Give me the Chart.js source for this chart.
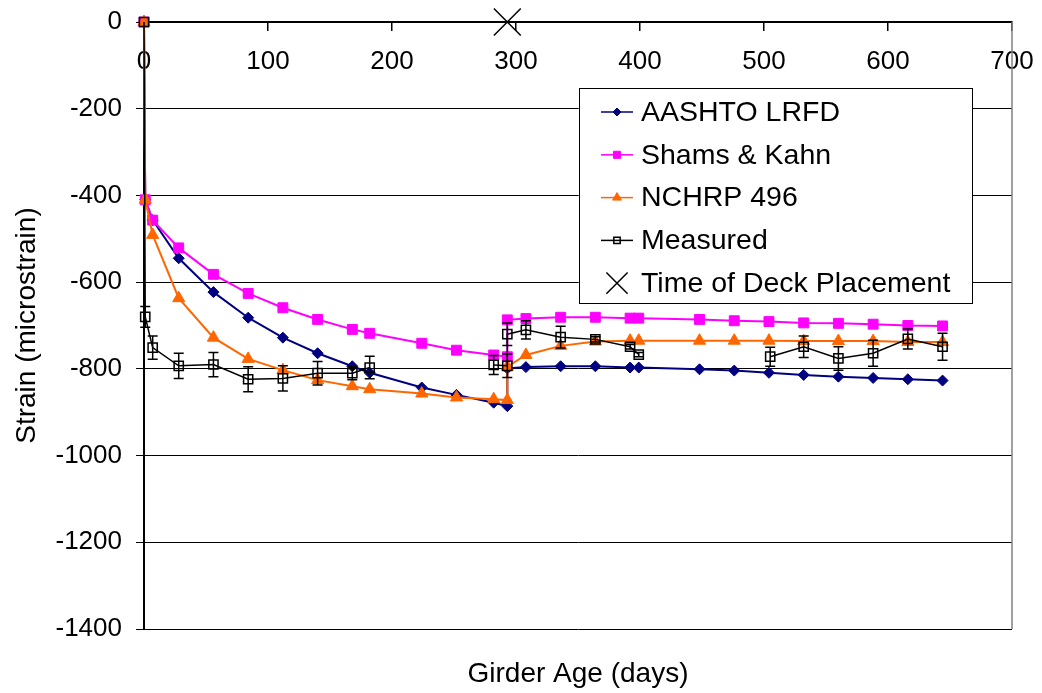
<!DOCTYPE html>
<html>
<head>
<meta charset="utf-8">
<script src="https://cdn.jsdelivr.net/npm/chart.js"></script>
<style>
html,body{margin:0;padding:0;background:#fff}
#wrap{width:1042px;height:693px}
</style>
</head>
<body>
<div id="wrap"><canvas id="c" width="1042" height="693"></canvas></div>
<script>
// girder age (days) for the three prediction models
var modelDays=[0,1,7,28,56,84,112,140,168,182,224,252,282,293,293,308,336,364,392,399,448,476,504,532,560,588,616,644]
var aashto=[0,-410,-457,-545,-623,-682,-728,-764,-794,-809,-843,-860,-878,-886,-799,-796,-794,-794,-797,-797,-801,-804,-809,-814,-818,-821,-824,-827]
var shamsKahn=[0,-410,-457,-521,-582,-626,-659,-686,-709,-718,-741,-757,-768,-772,-687,-684,-681,-681,-683,-683,-686,-689,-691,-694,-695,-697,-700,-701]
var nchrp=[0,-410,-491,-637,-728,-777,-803,-826,-840,-847,-857,-866,-870,-872,-795,-768,-747,-737,-735,-735,-735,-735,-735,-736,-736,-736,-738,-738]

// measured strain with +/- error
var measuredDays=[0,1,7,28,56,84,112,140,168,182,282,293,293,308,336,364,392,399,505,532,560,588,616,644]
var measured=[0,-680,-751,-793,-790,-824,-822,-810,-810,-797,-791,-793,-720,-710,-727,-732,-749,-767,-772,-749,-776,-764,-731,-749]
var measuredErr=[0,24,27,29,28,29,29,27,15,26,22,27,26,21,25,6,5,5,22,25,27,30,23,31]

var deckDays=[293]
var deckStrain=[0]

var xTicks={min:0,max:700,step:100}
var yTicks={min:-1400,max:0,step:200}

function pts(xs,ys){
	return xs.map(function(x,i){return {x:x,y:ys[i]}})
}
function noPad(s){
	s.paddingLeft=0;s.paddingRight=0;s.paddingTop=0;s.paddingBottom=0
}

Chart.defaults.font.family='"Liberation Sans", Arial, sans-serif'
Chart.defaults.color='#000'

var errorBars={
	id:'errorBars',
	beforeDatasetDraw:function(chart,args){
		if(args.index!==3) return
		var x=chart.scales.x,y=chart.scales.y,ctx=chart.ctx
		ctx.save()
		ctx.strokeStyle='#000'
		ctx.lineWidth=1.5
		measuredDays.forEach(function(d,i){
			var e=measuredErr[i]
			if(!e) return
			var px=x.getPixelForValue(d),
				top=y.getPixelForValue(measured[i]+e),
				bot=y.getPixelForValue(measured[i]-e)
			ctx.beginPath()
			ctx.moveTo(px,top);ctx.lineTo(px,bot)
			ctx.moveTo(px-5,top);ctx.lineTo(px+5,top)
			ctx.moveTo(px-5,bot);ctx.lineTo(px+5,bot)
			ctx.stroke()
		})
		ctx.restore()
	}
}

var frame={
	id:'frame',
	beforeDatasetsDraw:function(chart){
		var a=chart.chartArea,ctx=chart.ctx
		ctx.save()
		ctx.strokeStyle='#808080'
		ctx.lineWidth=1.5
		ctx.beginPath()
		ctx.moveTo(a.right,a.top);ctx.lineTo(a.right,a.bottom)
		ctx.stroke()
		ctx.restore()
	}
}

var boxLegend={
	id:'boxLegend',
	afterDraw:function(chart,args,o){
		var ctx=chart.ctx
		ctx.save()
		ctx.fillStyle='#fff'
		ctx.fillRect(o.left,o.top,o.width,o.height)
		ctx.strokeStyle='#000'
		ctx.lineWidth=1
		ctx.strokeRect(o.left+0.5,o.top+0.5,o.width,o.height)
		ctx.font=o.font
		ctx.textBaseline='middle'
		chart.data.datasets.forEach(function(ds,i){
			var yy=o.top+o.firstRow+i*o.rowGap,x0=o.left+o.sampleX
			if(ds.showLine!==false){
				ctx.strokeStyle=ds.borderColor
				ctx.lineWidth=1.5
				ctx.beginPath()
				ctx.moveTo(x0,yy);ctx.lineTo(x0+o.sampleW,yy)
				ctx.stroke()
			}
			ctx.fillStyle=ds.pointBackgroundColor
			ctx.strokeStyle=ds.pointBorderColor
			ctx.lineWidth=ds.pointBorderWidth
			Chart.helpers.drawPoint(ctx,{pointStyle:ds.pointStyle,rotation:0,radius:ds.legendRadius,borderWidth:ds.pointBorderWidth},x0+o.sampleW/2,yy)
			ctx.fillStyle='#000'
			ctx.fillText(ds.label,o.left+o.textX,yy+1)
		})
		ctx.restore()
	}
}

new Chart(document.getElementById('c'),{
	type:'line',
	data:{
		datasets:[
			{label:'AASHTO LRFD',data:pts(modelDays,aashto),borderColor:'#000080',borderWidth:2,
			 pointStyle:'rectRot',pointRadius:5.5,pointBackgroundColor:'#000080',pointBorderColor:'#000080',pointBorderWidth:1,legendRadius:4,order:4},
			{label:'Shams & Kahn',data:pts(modelDays,shamsKahn),borderColor:'#FF00FF',borderWidth:2,
			 pointStyle:'rect',pointRadius:7,pointBackgroundColor:'#FF00FF',pointBorderColor:'#FF00FF',pointBorderWidth:1,legendRadius:5,order:3},
			{label:'NCHRP 496',data:pts(modelDays,nchrp),borderColor:'#FF6600',borderWidth:2,
			 pointStyle:'triangle',pointRadius:7,pointBackgroundColor:'#FF6600',pointBorderColor:'#FF6600',pointBorderWidth:1,legendRadius:5,order:2},
			{label:'Measured',data:pts(measuredDays,measured),borderColor:'#000',borderWidth:1.5,spanGaps:50,
			 pointStyle:'rect',pointRadius:6.5,pointBackgroundColor:'rgba(0,0,0,0)',pointBorderColor:'#000',pointBorderWidth:1.5,legendRadius:4.5,order:1},
			{label:'Time of Deck Placement',data:pts(deckDays,deckStrain),showLine:false,borderColor:'#000',
			 pointStyle:'crossRot',pointRadius:19,pointBackgroundColor:'#000',pointBorderColor:'#000',pointBorderWidth:1.5,legendRadius:15,order:0}
		]
	},
	options:{
		responsive:false,
		animation:false,
		events:[],
		clip:false,
		layout:{padding:{top:22,right:30,bottom:0,left:0},autoPadding:false},
		scales:{
			x:{
				type:'linear',
				position:{y:0},
				min:xTicks.min,max:xTicks.max,
				ticks:{stepSize:xTicks.step,padding:16,font:{size:26},color:'#000'},
				grid:{drawOnChartArea:false,tickLength:8,tickColor:'#000',lineWidth:1.5},
				border:{color:'#000',width:2},
				afterFit:function(s){s.height=0;noPad(s)}
			},
			x2:{
				type:'linear',
				position:'bottom',
				min:xTicks.min,max:xTicks.max,
				ticks:{display:false},
				grid:{display:false,drawTicks:false},
				border:{display:false},
				title:{display:true,text:'Girder Age (days)',font:{size:28},color:'#000',padding:{top:28,bottom:2.4}},
				afterFit:function(s){s.height=64;noPad(s)}
			},
			y:{
				min:yTicks.min,max:yTicks.max,
				ticks:{stepSize:yTicks.step,padding:14,font:{size:26},color:'#000',callback:function(v){return String(v)}},
				grid:{color:'#000',lineWidth:1,tickLength:8,tickColor:'#000'},
				border:{color:'#000',width:2},
				title:{display:true,text:'Strain (microstrain)',font:{size:28},color:'#000',padding:{top:10}},
				afterFit:function(s){s.width=144;noPad(s)}
			}
		},
		plugins:{
			legend:{display:false},
			tooltip:{enabled:false},
			boxLegend:{left:579,top:88,width:393,height:215,firstRow:24,rowGap:42.8,sampleX:22,sampleW:32,textX:62,font:'28.5px "Liberation Sans", Arial, sans-serif'}
		}
	},
	plugins:[frame,errorBars,boxLegend]
})
</script>
</body>
</html>
